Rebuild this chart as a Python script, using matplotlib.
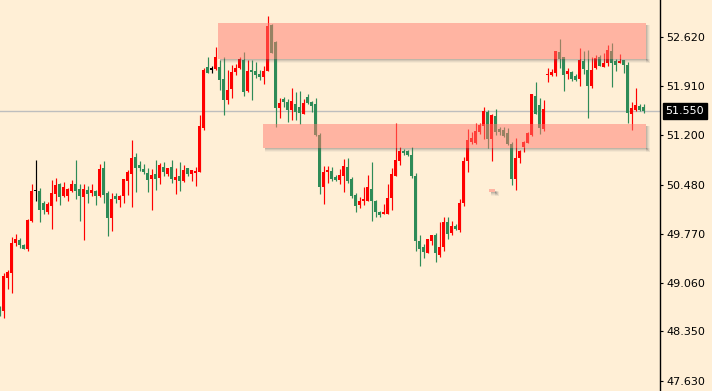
import numpy as np
import matplotlib
matplotlib.use('Agg')
import matplotlib.pyplot as plt
from matplotlib.patches import Rectangle
import matplotlib.transforms as mtransforms

# candle data, first candle is the partly hidden one at the left edge
opens = [48.69, 48.64, 49.13, 49.20, 49.64, 49.68, 49.60, 49.55, 49.95, 50.39,
         50.39, 50.21, 50.08, 50.17, 50.35, 50.49, 50.32, 50.31, 50.39, 50.49,
         50.42, 50.30, 50.40, 50.36, 50.39, 50.32, 50.72, 50.36, 50.00, 50.32,
         50.26, 50.32, 50.53, 50.64, 50.88, 50.77, 50.71, 50.65, 50.56, 50.64,
         50.58, 50.74, 50.64, 50.74, 50.55, 50.61, 50.53, 50.72, 50.64, 50.65,
         50.67, 51.30, 52.19, 52.16, 52.16, 52.19, 52.01, 51.71, 51.87, 52.12,
         52.17, 52.29, 51.84, 52.15, 52.13, 52.09, 52.04, 52.13, 52.80, 52.55,
         51.59, 51.72, 51.68, 51.57, 51.65, 51.61, 51.51, 51.75, 51.68, 51.65,
         51.20, 50.45, 50.67, 50.68, 50.59, 50.55, 50.61, 50.74, 50.56, 50.33,
         50.19, 50.24, 50.24, 50.42, 50.24, 50.08, 50.06, 50.06, 50.29, 50.61,
         50.82, 50.97, 50.97, 50.91, 50.61, 49.66, 49.58, 49.49, 49.66, 49.75,
         49.46, 49.58, 49.94, 49.78, 49.88, 49.82, 50.21, 50.82, 51.10, 51.09,
         51.25, 51.33, 51.54, 51.14, 51.48, 51.29, 51.27, 51.23, 51.07, 50.56,
         50.87, 51.03, 51.09, 51.20, 51.77, 51.64, 51.29, 52.07, 52.07, 52.10,
         52.41, 52.33, 52.09, 52.12, 52.06, 52.02, 52.28, 52.15, 51.91, 52.17,
         52.33, 52.19, 52.25, 52.42, 52.28, 52.25, 52.29, 52.22, 51.51, 51.57,
         51.62, 51.61]
highs = [48.72, 49.20, 49.24, 49.72, 49.77, 49.70, 49.62, 49.98, 50.49, 50.84,
         50.43, 50.25, 50.23, 50.55, 50.58, 50.51, 50.52, 50.43, 50.55, 50.84,
         50.49, 50.49, 50.46, 50.49, 50.40, 50.78, 50.82, 50.39, 50.36, 50.36,
         50.33, 50.56, 50.69, 51.13, 50.94, 50.82, 50.78, 50.72, 50.71, 50.84,
         50.80, 50.81, 50.72, 50.84, 50.72, 50.81, 50.77, 50.72, 50.69, 50.74,
         51.49, 52.17, 52.33, 52.20, 52.48, 52.29, 52.33, 52.15, 52.22, 52.23,
         52.33, 52.41, 52.29, 52.29, 52.26, 52.15, 52.20, 52.93, 52.81, 52.57,
         51.74, 51.75, 51.72, 51.89, 51.83, 51.84, 51.72, 51.80, 51.70, 51.74,
         51.23, 50.75, 50.75, 50.74, 50.62, 50.71, 50.85, 50.87, 50.59, 50.36,
         50.30, 50.45, 50.62, 50.81, 50.26, 50.10, 50.20, 50.49, 50.72, 51.38,
         51.03, 51.00, 50.98, 51.03, 50.65, 49.75, 49.62, 49.69, 49.75, 49.78,
         49.94, 50.01, 50.01, 49.95, 49.91, 50.27, 50.88, 51.29, 51.25, 51.38,
         51.38, 51.61, 51.57, 51.51, 51.58, 51.32, 51.32, 51.30, 51.10, 51.16,
         50.98, 51.12, 51.25, 51.80, 51.97, 51.74, 51.71, 52.17, 52.16, 52.42,
         52.60, 52.33, 52.17, 52.13, 52.09, 52.46, 52.42, 52.44, 52.33, 52.36,
         52.36, 52.39, 52.51, 52.54, 52.31, 52.38, 52.29, 52.26, 51.68, 51.89,
         51.65, 51.65]
lows = [48.58, 48.55, 48.97, 48.91, 49.59, 49.56, 49.54, 49.52, 49.94, 50.25,
        49.94, 50.05, 50.05, 49.84, 50.25, 50.19, 50.30, 50.25, 50.37, 50.27,
        49.95, 49.68, 50.21, 50.32, 50.19, 50.30, 50.21, 49.74, 49.81, 50.21,
        50.16, 50.21, 50.33, 50.16, 50.37, 50.68, 50.64, 50.37, 50.11, 50.40,
        50.49, 50.61, 50.61, 50.50, 50.35, 50.39, 50.52, 50.61, 50.53, 50.46,
        50.67, 51.27, 52.10, 52.10, 52.15, 51.86, 51.49, 51.65, 51.74, 52.07,
        52.16, 51.77, 51.83, 51.71, 52.03, 52.00, 51.94, 52.13, 52.39, 51.32,
        51.45, 51.61, 51.39, 51.42, 51.42, 51.36, 51.51, 51.65, 51.54, 51.19,
        50.35, 50.20, 50.50, 50.53, 50.53, 50.49, 50.37, 50.50, 50.29, 50.08,
        50.14, 50.19, 50.24, 49.95, 50.01, 50.01, 50.06, 50.06, 50.11, 50.61,
        50.77, 50.91, 50.90, 50.58, 49.52, 49.30, 49.42, 49.49, 49.60, 49.36,
        49.43, 49.52, 49.69, 49.75, 49.82, 49.79, 50.17, 50.67, 51.07, 51.07,
        51.22, 51.14, 51.01, 50.82, 51.20, 51.20, 51.17, 51.06, 50.48, 50.40,
        50.80, 50.96, 51.09, 51.19, 51.51, 51.22, 51.26, 51.97, 52.06, 52.06,
        52.17, 51.84, 52.01, 51.99, 51.99, 51.91, 52.09, 51.45, 51.88, 52.16,
        52.20, 52.19, 52.20, 51.90, 52.13, 52.25, 52.10, 51.38, 51.27, 51.55,
        51.55, 51.52]
closes = [48.62, 49.16, 49.21, 49.63, 49.69, 49.61, 49.55, 49.97, 50.39, 50.39,
          50.11, 50.11, 50.20, 50.36, 50.48, 50.30, 50.45, 50.42, 50.49, 50.39,
          50.32, 50.42, 50.35, 50.40, 50.32, 50.71, 50.33, 50.00, 50.27, 50.27,
          50.32, 50.56, 50.66, 50.87, 50.72, 50.72, 50.66, 50.55, 50.62, 50.56,
          50.77, 50.66, 50.72, 50.56, 50.59, 50.53, 50.69, 50.64, 50.69, 50.68,
          51.33, 52.15, 52.10, 52.16, 52.33, 52.00, 51.71, 51.86, 52.12, 52.17,
          52.31, 51.83, 52.13, 52.12, 52.07, 52.04, 52.13, 52.78, 52.39, 51.59,
          51.67, 51.68, 51.57, 51.70, 51.54, 51.52, 51.67, 51.67, 51.62, 51.20,
          50.45, 50.67, 50.69, 50.56, 50.55, 50.62, 50.75, 50.53, 50.32, 50.17,
          50.24, 50.27, 50.45, 50.24, 50.08, 50.04, 50.08, 50.29, 50.64, 50.84,
          50.97, 50.94, 50.91, 50.61, 49.66, 49.55, 49.50, 49.69, 49.75, 49.49,
          49.58, 49.94, 49.76, 49.88, 49.84, 50.21, 50.82, 51.13, 51.16, 51.26,
          51.35, 51.55, 51.14, 51.49, 51.25, 51.25, 51.19, 51.07, 50.56, 50.87,
          50.97, 51.10, 51.23, 51.80, 51.51, 51.30, 51.58, 52.09, 52.12, 52.42,
          52.31, 52.07, 52.13, 52.02, 52.00, 52.29, 52.16, 51.91, 52.15, 52.32,
          52.20, 52.25, 52.44, 52.25, 52.22, 52.28, 52.22, 51.52, 51.59, 51.64,
          51.57, 51.55]

yticks = [52.62, 51.91, 51.20, 50.48, 49.77, 49.06, 48.35, 47.63]
last_price = 51.55

# zones: (first bar, last bar, low price, high price)
zones = [(53.6, 160.6, 52.305, 52.828),
         (64.95, 160.6, 51.013, 51.361),
         (121.4, 122.9, 50.37, 50.42)]

bg = '#FFEFD6'
up_col = '#FF0000'
dn_col = '#2E8B57'
zone_col = '#FF7A70'

o = np.array(opens); h = np.array(highs); l = np.array(lows); c = np.array(closes)
idx = np.arange(len(o)) - 1

cols = np.where(c > o, up_col, np.where(c < o, dn_col, 'black'))

fig = plt.figure(figsize=(7.12, 3.91), dpi=100)
fig.patch.set_facecolor(bg)
ax = fig.add_axes([0, 0, 660/712., 1])
ax.set_facecolor(bg)

ax.axhline(last_price, color='#BEBEBE', lw=1.0, zorder=1)

ax.vlines(idx, l, h, colors=cols, lw=0.85, zorder=2)
body = c - o
minb = 0.016
body = np.where(np.abs(body) < minb, np.where(body >= 0, minb, -minb), body)
bottoms = np.where(c == o, o - minb / 2, o)
ax.bar(idx, body, bottom=bottoms, width=0.78, color=cols, linewidth=0, zorder=3)

# zones with a soft shadow strip at right and bottom
px = 0.25          # one pixel in bar units
py = 1 / 68.88     # one pixel in price units
for x0, x1, y0, y1 in zones:
    for k, a in [(4, 0.06), (3, 0.09), (2, 0.13), (1, 0.18)]:
        # bottom strip
        ax.add_patch(Rectangle((x0 + 2 * px, y0 - k * py), x1 - x0 + (k - 2) * px, k * py,
                               facecolor='#606060', alpha=a, lw=0, zorder=4))
        # right strip
        ax.add_patch(Rectangle((x1, y0 - k * py), k * px, y1 - y0 - 2 * py + k * py,
                               facecolor='#606060', alpha=a, lw=0, zorder=4))
    ax.add_patch(Rectangle((x0, y0), x1 - x0, y1 - y0, facecolor=zone_col,
                           alpha=0.5, lw=0, zorder=5))

ax.set_xlim(-0.875, 164.125)
ax.set_ylim(47.485, 53.162)

for s in ['top', 'left', 'bottom']:
    ax.spines[s].set_visible(False)
ax.spines['right'].set_color('black')
ax.spines['right'].set_linewidth(1.0)
ax.set_xticks([])
ax.yaxis.tick_right()
ax.set_yticks(yticks)
ax.set_yticklabels(['%.3f' % v for v in yticks])
ax.tick_params(axis='y', direction='out', length=2.5, width=0.8, pad=2,
               labelsize=8, colors='black')

trans = mtransforms.blended_transform_factory(ax.transAxes, ax.transData)
ax.text(1.008, last_price, '%.3f' % last_price, transform=trans, color='white',
        fontsize=8, ha='left', va='center', zorder=10, clip_on=False,
        bbox=dict(boxstyle='square,pad=0.25', facecolor='black', edgecolor='black'))

fig.savefig('out.png', dpi=100, facecolor=bg)
